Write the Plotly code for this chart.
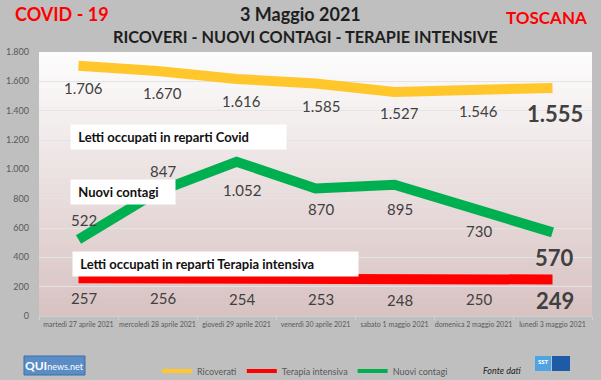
import plotly.graph_objects as go

# ---------------- data ----------------
dates = ["martedì 27 aprile 2021", "mercoledì 28 aprile 2021", "giovedì 29 aprile 2021",
         "venerdì 30 aprile 2021", "sabato 1 maggio 2021", "domenica 2 maggio 2021",
         "lunedì 3 maggio 2021"]
ricoverati = [1706, 1670, 1616, 1585, 1527, 1546, 1555]
terapia_intensiva = [257, 256, 254, 253, 248, 250, 249]
nuovi_contagi = [522, 847, 1052, 870, 895, 730, 570]
y_ticks = [0, 200, 400, 600, 800, 1000, 1200, 1400, 1600, 1800]

# label offsets (pixels) - layout only
off_ric = [-22, -22, -22, -22, -21, -22, -26]
off_ter = [-20, -20, -20, -20, -20, -20, -21]
off_nuo = [19, 21, -28, -21, -24, -22, -25]

YELLOW = "#FFC72C"
RED = "#FF0000"
GREEN = "#00B050"
FONT = "Lato"
LBL = "#404040"


def fmt(v):
    return f"{v:,}".replace(",", ".")


# plot area in pixels
L, R, T, B = 39, 592, 52, 316


def px(x):
    return (x - L) / (R - L)


def py(y):
    return (B - y) / (B - T)


fig = go.Figure()

fig.add_trace(go.Scatter(x=dates, y=ricoverati, mode="lines", line=dict(color=YELLOW, width=10),
                         showlegend=False, hoverinfo="skip"))
fig.add_trace(go.Scatter(x=dates, y=nuovi_contagi, mode="lines", line=dict(color=GREEN, width=10),
                         showlegend=False, hoverinfo="skip"))
fig.add_trace(go.Scatter(x=dates, y=terapia_intensiva, mode="lines", line=dict(color=RED, width=10),
                         showlegend=False, hoverinfo="skip"))

# legend-only traces (thin samples)
for name, col in [("Ricoverati", YELLOW), ("Terapia intensiva", RED), ("Nuovi contagi", GREEN)]:
    fig.add_trace(go.Scatter(x=[None], y=[None], mode="lines", name=name,
                             line=dict(color=col, width=4)))

annotations = []
# data labels
for series, offs in [(ricoverati, off_ric), (terapia_intensiva, off_ter), (nuovi_contagi, off_nuo)]:
    n = len(series)
    for i, (d, v) in enumerate(zip(dates, series)):
        last = i == n - 1
        annotations.append(dict(
            x=d, y=v, xref="x", yref="y", text=fmt(v), showarrow=False,
            yshift=offs[i], xshift=(2 if last else 5),
            font=dict(family=FONT, size=22 if last else 15, color=LBL,
                      weight="bold" if last else "normal")))

# boxed series descriptions
for text, x0, x1, yc in [("Letti occupati in reparti Covid", 70, 285, 137),
                         ("Nuovi contagi", 70, 174, 192),
                         ("Letti occupati in reparti Terapia intensiva", 72, 357, 264)]:
    annotations.append(dict(
        x=px(x0), y=py(yc), xref="paper", yref="paper", xanchor="left", yanchor="middle",
        text="\u00a0<b>" + text + "</b>", showarrow=False, align="left",
        width=x1 - x0 - 8, height=16, borderpad=4, bgcolor="white",
        font=dict(family=FONT, size=13, color="#111111"),
    ))

# titles
annotations += [
    dict(x=px(13), y=py(14), xref="paper", yref="paper", xanchor="left", yanchor="middle",
         text="<b>COVID - 19</b>", showarrow=False, font=dict(family=FONT, size=18, color=RED)),
    dict(x=px(300), y=py(14), xref="paper", yref="paper", xanchor="center", yanchor="middle",
         text="<b>3 Maggio 2021</b>", showarrow=False, font=dict(family=FONT, size=18, color="#1E1E1E")),
    dict(x=px(305), y=py(37), xref="paper", yref="paper", xanchor="center", yanchor="middle",
         text="<b>RICOVERI - NUOVI CONTAGI - TERAPIE INTENSIVE</b>", showarrow=False,
         font=dict(family=FONT, size=16.3, color="#1E1E1E")),
    dict(x=px(589), y=py(17), xref="paper", yref="paper", xanchor="right", yanchor="middle",
         text="<b>TOSCANA</b>", showarrow=False, font=dict(family=FONT, size=17, color=RED)),
    dict(x=px(481), y=py(370), xref="paper", yref="paper", xanchor="left", yanchor="middle",
         text="<i>Fonte dati</i>", showarrow=False, font=dict(family=FONT, size=9, color="#222222")),
    dict(x=px(54), y=py(365), xref="paper", yref="paper", xanchor="center", yanchor="middle",
         text="<b>QUI</b><span style='font-size:9px'>news.net</span>", showarrow=False,
         font=dict(family=FONT, size=12, color="white")),
    dict(x=px(543), y=py(361), xref="paper", yref="paper", xanchor="center", yanchor="middle",
         text="<b>SST</b>", showarrow=False, font=dict(family=FONT, size=6, color="white")),
]

shapes = []
# gradient plot background
N = 44
top = (253, 253, 253)
bot = (216, 194, 194)
for k in range(N):
    f = (k + 0.5) / N
    c = tuple(round(top[j] + (bot[j] - top[j]) * f) for j in range(3))
    shapes.append(dict(type="rect", xref="paper", yref="paper", x0=0, x1=1,
                       y0=1 - (k + 1) / N - 0.001, y1=1 - k / N,
                       fillcolor=f"rgb{c}", line=dict(width=0), layer="below"))
# logos
shapes.append(dict(type="rect", xref="paper", yref="paper", x0=px(24), x1=px(85), y0=py(375), y1=py(356),
                   fillcolor="#5A8CC6", line=dict(color="#3F6FA8", width=1), layer="below"))
shapes.append(dict(type="rect", xref="paper", yref="paper", x0=px(535), x1=px(551), y0=py(371), y1=py(356),
                   fillcolor="#4FA3E0", line=dict(width=0), layer="below"))
shapes.append(dict(type="rect", xref="paper", yref="paper", x0=px(552), x1=px(570), y0=py(371), y1=py(356),
                   fillcolor="#1E5BA6", line=dict(width=0), layer="below"))

fig.update_layout(
    width=601, height=380,
    margin=dict(l=L, r=601 - R, t=T, b=380 - B, autoexpand=False),
    paper_bgcolor="#BFBFBF", plot_bgcolor="rgba(0,0,0,0)",
    separators=",.",
    font=dict(family=FONT, color="#595959"),
    showlegend=True,
    legend=dict(orientation="h", x=px(305), xanchor="center", y=py(371), yanchor="middle",
                font=dict(family=FONT, size=9, color="#595959"), bgcolor="rgba(0,0,0,0)",
                itemwidth=30, tracegroupgap=0),
    annotations=annotations,
    shapes=shapes,
    xaxis=dict(type="category", range=[-0.5, len(dates) - 0.5], showgrid=False,
               tickson="boundaries", ticks="outside",
               ticklen=3, tickcolor="#D0D0D0", showline=True, linecolor="#D0D0D0",
               tickangle=0, automargin=False,
               tickfont=dict(family=FONT, size=7, color="#595959"), ticklabelstandoff=2,
               fixedrange=True),
    yaxis=dict(range=[0, 1800], tickvals=y_ticks, tickformat=",d", showgrid=True,
               gridcolor="#E4E4E4", gridwidth=1, zeroline=False, showline=False,
               automargin=False,
               tickfont=dict(family=FONT, size=9, color="#595959"), ticklabelstandoff=9,
               fixedrange=True),
)

fig.write_html("out.html", config={"displayModeBar": False},
               post_script="document.body.style.margin='0';document.body.style.overflow='hidden';")
